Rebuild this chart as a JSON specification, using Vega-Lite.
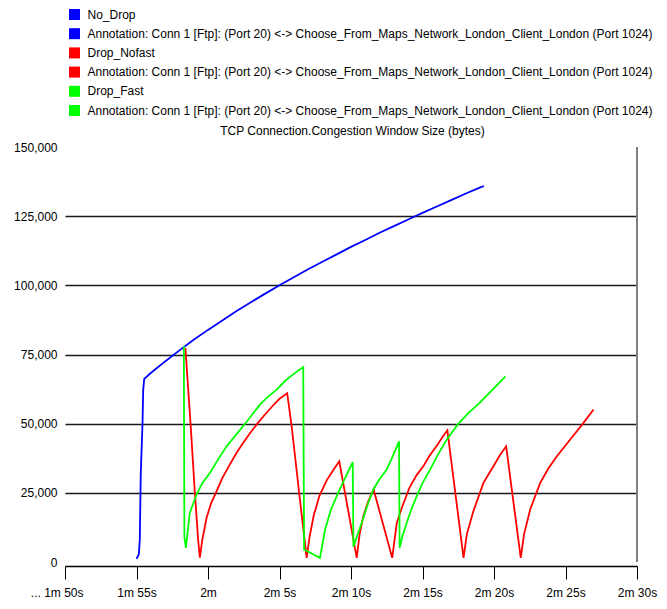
{
  "$schema": "https://vega.github.io/schema/vega-lite/v6.json",
  "width": 572,
  "height": 415,
  "autosize": {"type": "none"},
  "padding": {"left": 65, "top": 147, "right": 30, "bottom": 47},
  "background": "white",
  "config": {
    "view": {"stroke": null},
    "font": "Liberation Sans, Arial, sans-serif"
  },
  "datasets": {
    "cwnd": [
      {"series": "No_Drop", "t": 115.00, "v": 1150},
      {"series": "No_Drop", "t": 115.16, "v": 2700},
      {"series": "No_Drop", "t": 115.23, "v": 8100},
      {"series": "No_Drop", "t": 115.30, "v": 32300},
      {"series": "No_Drop", "t": 115.42, "v": 50000},
      {"series": "No_Drop", "t": 115.47, "v": 62300},
      {"series": "No_Drop", "t": 115.54, "v": 66200},
      {"series": "No_Drop", "t": 116, "v": 68300},
      {"series": "No_Drop", "t": 117, "v": 72500},
      {"series": "No_Drop", "t": 118, "v": 76500},
      {"series": "No_Drop", "t": 119, "v": 80300},
      {"series": "No_Drop", "t": 120, "v": 83900},
      {"series": "No_Drop", "t": 121, "v": 87300},
      {"series": "No_Drop", "t": 122, "v": 90700},
      {"series": "No_Drop", "t": 123, "v": 93900},
      {"series": "No_Drop", "t": 124, "v": 97000},
      {"series": "No_Drop", "t": 125, "v": 100000},
      {"series": "No_Drop", "t": 126, "v": 102900},
      {"series": "No_Drop", "t": 127, "v": 105800},
      {"series": "No_Drop", "t": 128, "v": 108500},
      {"series": "No_Drop", "t": 129, "v": 111200},
      {"series": "No_Drop", "t": 130, "v": 113900},
      {"series": "No_Drop", "t": 131, "v": 116400},
      {"series": "No_Drop", "t": 132, "v": 119000},
      {"series": "No_Drop", "t": 133, "v": 121400},
      {"series": "No_Drop", "t": 134, "v": 123800},
      {"series": "No_Drop", "t": 135, "v": 126200},
      {"series": "No_Drop", "t": 136, "v": 128500},
      {"series": "No_Drop", "t": 137, "v": 130800},
      {"series": "No_Drop", "t": 138, "v": 133100},
      {"series": "No_Drop", "t": 139, "v": 135300},
      {"series": "No_Drop", "t": 139.3, "v": 135900},

      {"series": "Drop_Nofast", "t": 118.42, "v": 77300},
      {"series": "Drop_Nofast", "t": 118.78, "v": 50000},
      {"series": "Drop_Nofast", "t": 119.08, "v": 25100},
      {"series": "Drop_Nofast", "t": 119.31, "v": 8100},
      {"series": "Drop_Nofast", "t": 119.43, "v": 1600},
      {"series": "Drop_Nofast", "t": 119.6, "v": 8000},
      {"series": "Drop_Nofast", "t": 119.9, "v": 16000},
      {"series": "Drop_Nofast", "t": 120.2, "v": 21000},
      {"series": "Drop_Nofast", "t": 120.55, "v": 25000},
      {"series": "Drop_Nofast", "t": 121.0, "v": 30300},
      {"series": "Drop_Nofast", "t": 121.5, "v": 35000},
      {"series": "Drop_Nofast", "t": 122.0, "v": 39500},
      {"series": "Drop_Nofast", "t": 122.5, "v": 43400},
      {"series": "Drop_Nofast", "t": 123.0, "v": 47000},
      {"series": "Drop_Nofast", "t": 123.45, "v": 50000},
      {"series": "Drop_Nofast", "t": 124.0, "v": 53400},
      {"series": "Drop_Nofast", "t": 124.5, "v": 56300},
      {"series": "Drop_Nofast", "t": 125.0, "v": 59000},
      {"series": "Drop_Nofast", "t": 125.54, "v": 61000},
      {"series": "Drop_Nofast", "t": 125.85, "v": 49000},
      {"series": "Drop_Nofast", "t": 126.43, "v": 22500},
      {"series": "Drop_Nofast", "t": 126.9, "v": 1500},
      {"series": "Drop_Nofast", "t": 127.1, "v": 9000},
      {"series": "Drop_Nofast", "t": 127.4, "v": 17000},
      {"series": "Drop_Nofast", "t": 127.8, "v": 24000},
      {"series": "Drop_Nofast", "t": 128.3, "v": 29500},
      {"series": "Drop_Nofast", "t": 128.8, "v": 33500},
      {"series": "Drop_Nofast", "t": 129.18, "v": 36400},
      {"series": "Drop_Nofast", "t": 130.4, "v": 1500},
      {"series": "Drop_Nofast", "t": 130.6, "v": 10000},
      {"series": "Drop_Nofast", "t": 130.86, "v": 16500},
      {"series": "Drop_Nofast", "t": 131.2, "v": 21800},
      {"series": "Drop_Nofast", "t": 131.58, "v": 26200},
      {"series": "Drop_Nofast", "t": 132.88, "v": 1500},
      {"series": "Drop_Nofast", "t": 133.2, "v": 14000},
      {"series": "Drop_Nofast", "t": 133.55, "v": 19500},
      {"series": "Drop_Nofast", "t": 134.1, "v": 27000},
      {"series": "Drop_Nofast", "t": 134.6, "v": 31500},
      {"series": "Drop_Nofast", "t": 135.06, "v": 34600},
      {"series": "Drop_Nofast", "t": 135.5, "v": 38500},
      {"series": "Drop_Nofast", "t": 136.0, "v": 42000},
      {"series": "Drop_Nofast", "t": 136.4, "v": 45200},
      {"series": "Drop_Nofast", "t": 136.74, "v": 47600},
      {"series": "Drop_Nofast", "t": 137.87, "v": 1500},
      {"series": "Drop_Nofast", "t": 138.1, "v": 10000},
      {"series": "Drop_Nofast", "t": 138.56, "v": 18400},
      {"series": "Drop_Nofast", "t": 139.26, "v": 28600},
      {"series": "Drop_Nofast", "t": 139.96, "v": 34600},
      {"series": "Drop_Nofast", "t": 140.4, "v": 38500},
      {"series": "Drop_Nofast", "t": 140.85, "v": 41800},
      {"series": "Drop_Nofast", "t": 141.87, "v": 1500},
      {"series": "Drop_Nofast", "t": 142.1, "v": 10000},
      {"series": "Drop_Nofast", "t": 142.53, "v": 19000},
      {"series": "Drop_Nofast", "t": 143.23, "v": 28600},
      {"series": "Drop_Nofast", "t": 143.8, "v": 33800},
      {"series": "Drop_Nofast", "t": 144.4, "v": 38200},
      {"series": "Drop_Nofast", "t": 145.33, "v": 44300},
      {"series": "Drop_Nofast", "t": 146.26, "v": 50300},
      {"series": "Drop_Nofast", "t": 146.96, "v": 55100},

      {"series": "Drop_Fast", "t": 118.31, "v": 78000},
      {"series": "Drop_Fast", "t": 118.35, "v": 9000},
      {"series": "Drop_Fast", "t": 118.45, "v": 5100},
      {"series": "Drop_Fast", "t": 118.73, "v": 17800},
      {"series": "Drop_Fast", "t": 119.2, "v": 24400},
      {"series": "Drop_Fast", "t": 119.6, "v": 28500},
      {"series": "Drop_Fast", "t": 120.13, "v": 32200},
      {"series": "Drop_Fast", "t": 120.7, "v": 37000},
      {"series": "Drop_Fast", "t": 121.3, "v": 41800},
      {"series": "Drop_Fast", "t": 122.0, "v": 46200},
      {"series": "Drop_Fast", "t": 122.58, "v": 49900},
      {"series": "Drop_Fast", "t": 123.0, "v": 52700},
      {"series": "Drop_Fast", "t": 123.63, "v": 56900},
      {"series": "Drop_Fast", "t": 124.2, "v": 59800},
      {"series": "Drop_Fast", "t": 124.8, "v": 62300},
      {"series": "Drop_Fast", "t": 125.4, "v": 65500},
      {"series": "Drop_Fast", "t": 126.0, "v": 68000},
      {"series": "Drop_Fast", "t": 126.66, "v": 70500},
      {"series": "Drop_Fast", "t": 126.72, "v": 4500},
      {"series": "Drop_Fast", "t": 127.83, "v": 1500},
      {"series": "Drop_Fast", "t": 128.2, "v": 12000},
      {"series": "Drop_Fast", "t": 128.6, "v": 19000},
      {"series": "Drop_Fast", "t": 129.1, "v": 25000},
      {"series": "Drop_Fast", "t": 129.6, "v": 30500},
      {"series": "Drop_Fast", "t": 130.12, "v": 36100},
      {"series": "Drop_Fast", "t": 130.17, "v": 5500},
      {"series": "Drop_Fast", "t": 130.5, "v": 10500},
      {"series": "Drop_Fast", "t": 130.75, "v": 14200},
      {"series": "Drop_Fast", "t": 131.15, "v": 20500},
      {"series": "Drop_Fast", "t": 131.56, "v": 26200},
      {"series": "Drop_Fast", "t": 132.0, "v": 30000},
      {"series": "Drop_Fast", "t": 132.5, "v": 33400},
      {"series": "Drop_Fast", "t": 132.9, "v": 38000},
      {"series": "Drop_Fast", "t": 133.36, "v": 43600},
      {"series": "Drop_Fast", "t": 133.4, "v": 5100},
      {"series": "Drop_Fast", "t": 133.6, "v": 9500},
      {"series": "Drop_Fast", "t": 133.9, "v": 14200},
      {"series": "Drop_Fast", "t": 134.25, "v": 19500},
      {"series": "Drop_Fast", "t": 134.6, "v": 23800},
      {"series": "Drop_Fast", "t": 135.0, "v": 28500},
      {"series": "Drop_Fast", "t": 135.53, "v": 33400},
      {"series": "Drop_Fast", "t": 136.1, "v": 39000},
      {"series": "Drop_Fast", "t": 136.7, "v": 44300},
      {"series": "Drop_Fast", "t": 137.5, "v": 49900},
      {"series": "Drop_Fast", "t": 138.2, "v": 53800},
      {"series": "Drop_Fast", "t": 139.0, "v": 57500},
      {"series": "Drop_Fast", "t": 139.9, "v": 62300},
      {"series": "Drop_Fast", "t": 140.8, "v": 67100}
    ]
  },
  "layer": [
    {
      "data": {"name": "cwnd"},
      "mark": {"type": "line", "strokeWidth": 1.8},
      "encoding": {
        "x": {
          "field": "t",
          "type": "quantitative",
          "scale": {"domain": [110, 150], "nice": false, "zero": false},
          "axis": {
            "values": [110, 115, 120, 125, 130, 135, 140, 145, 150],
            "labelExpr": "(datum.value == 110 ? '... ' : '') + floor(datum.value / 60) + 'm' + (datum.value % 60 == 0 ? '' : ' ' + (datum.value % 60) + 's')",
            "labelAlign": {"condition": {"test": "datum.value == 110", "value": "right"}, "value": "center"},
            "labelOffset": {"condition": {"test": "datum.value == 110", "value": 18}, "value": 0},
            "title": null,
            "grid": false,
            "offset": 4,
            "domainColor": "black",
            "domainWidth": 1.5,
            "tickColor": "black",
            "tickSize": 13,
            "tickWidth": 1,
            "labelPadding": 8,
            "labelFontSize": 12,
            "labelColor": "black",
            "labelFlush": false,
            "labelOverlap": false
          }
        },
        "y": {
          "field": "v",
          "type": "quantitative",
          "scale": {"domain": [0, 150000], "nice": false},
          "axis": {
            "values": [0, 25000, 50000, 75000, 100000, 125000, 150000],
            "format": ",.0f",
            "title": "TCP Connection.Congestion Window Size (bytes)",
            "titleAngle": 0,
            "titleX": 287,
            "titleY": -17,
            "titleAlign": "center",
            "titleBaseline": "middle",
            "titleFontSize": 12,
            "titleFontWeight": "normal",
            "titleColor": "black",
            "domain": false,
            "ticks": false,
            "grid": true,
            "gridColor": {"condition": {"test": "datum.value == 0 || datum.value == 150000", "value": "transparent"}, "value": "#1a1a1a"},
            "gridWidth": 1.5,
            "labelPadding": 8,
            "labelFontSize": 12,
            "labelColor": "black"
          }
        },
        "color": {
          "field": "series",
          "type": "nominal",
          "scale": {
            "domain": ["No_Drop", "Annotation (No_Drop)", "Drop_Nofast", "Annotation (Drop_Nofast)", "Drop_Fast", "Annotation (Drop_Fast)"],
            "range": ["#0000ff", "#0000ff", "#ff0000", "#ff0000", "#00ff00", "#00ff00"]
          },
          "legend": {
            "orient": "none",
            "legendX": 3.5,
            "legendY": -138.5,
            "title": null,
            "symbolType": "square",
            "symbolSize": 121,
            "symbolStrokeWidth": 0,
            "labelFontSize": 12,
            "labelColor": "black",
            "labelOffset": 7,
            "rowPadding": 7.2,
            "padding": 0,
            "labelLimit": 800,
            "labelExpr": "indexof(datum.label, 'Annotation') == 0 ? 'Annotation: Conn 1 [Ftp]: (Port 20) <-> Choose_From_Maps_Network_London_Client_London (Port 1024)' : datum.label",
            "encode": {
              "symbols": {
                "update": {
                  "fill": {"scale": "color", "field": "value"},
                  "stroke": {"value": "transparent"},
                  "opacity": {"value": 1}
                }
              }
            }
          }
        }
      }
    },
    {
      "data": {"values": [{"edge": "right"}]},
      "mark": {"type": "rule", "color": "#808080", "strokeWidth": 2},
      "encoding": {"x": {"datum": 150}}
    }
  ]
}
